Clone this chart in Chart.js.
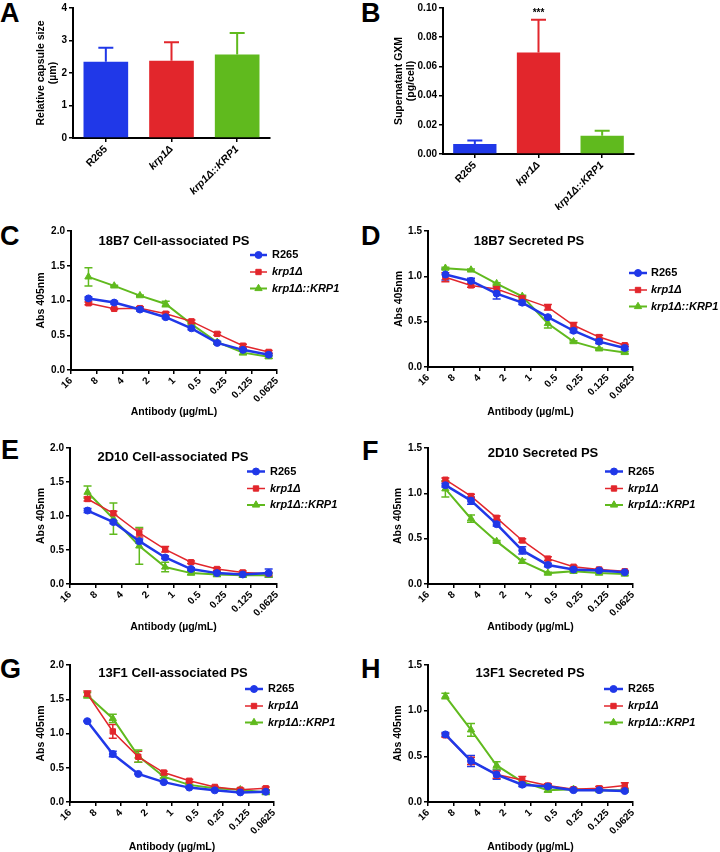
<!DOCTYPE html>
<html>
<head>
<meta charset="utf-8">
<script src="https://cdn.jsdelivr.net/npm/chart.js@4.4.1/dist/chart.umd.min.js"></script>
<style>
  body { margin: 0; background: #fff; width: 720px; height: 852px; position: relative; overflow: hidden; font-family: "Liberation Sans", Arial, sans-serif; }
  .letter { position: absolute; font-weight: bold; font-size: 27px; line-height: 1; }
  canvas { position: absolute; }
</style>
</head>
<body>
<div class="letter" style="left:0;top:0">A</div>
<div class="letter" style="left:361px;top:0">B</div>
<div class="letter" style="left:0;top:223px">C</div>
<div class="letter" style="left:361px;top:223px">D</div>
<div class="letter" style="left:1px;top:437px">E</div>
<div class="letter" style="left:362px;top:438px">F</div>
<div class="letter" style="left:0;top:656px">G</div>
<div class="letter" style="left:361px;top:656px">H</div>
<script>
// --- data ---
const strains = ['R265', 'krp1Δ', 'krp1Δ::KRP1'];
const strainsB = ['R265', 'kpr1Δ', 'krp1Δ::KRP1'];

const capsuleMean = [2.35, 2.38, 2.57];
const capsuleSd = [0.43, 0.57, 0.66];
const gxmMean = [0.0068, 0.0695, 0.0125];
const gxmSd = [0.0025, 0.0225, 0.0035];

const doses = [10, 5, 2.5, 1.25, 0.625, 0.3125, 0.15625, 0.078125];
const doseTicks = [16, 8, 4, 2, 1, 0.5, 0.25, 0.125, 0.0625];

// 18B7 cell-associated
const c_r265 = [1.03, 0.97, 0.87, 0.76, 0.60, 0.39, 0.29, 0.22];
const c_krp1 = [0.96, 0.88, 0.89, 0.81, 0.70, 0.52, 0.35, 0.26];
const c_comp = [1.34, 1.21, 1.07, 0.95, 0.66, 0.40, 0.25, 0.19];
const c_r265Err = [0.02, 0.02, 0.02, 0.02, 0.02, 0.02, 0.02, 0.02];
const c_krp1Err = [0.02, 0.01, 0.02, 0.02, 0.02, 0.02, 0.02, 0.02];
const c_compErr = [0.13, 0.01, 0.01, 0.04, 0.01, 0.01, 0.03, 0.02];
// 18B7 secreted
const d_r265 = [1.02, 0.95, 0.81, 0.71, 0.55, 0.40, 0.28, 0.21];
const d_krp1 = [0.99, 0.90, 0.86, 0.76, 0.66, 0.46, 0.33, 0.24];
const d_comp = [1.09, 1.07, 0.92, 0.78, 0.48, 0.28, 0.20, 0.16];
const d_r265Err = [0.06, 0.03, 0.06, 0.02, 0.01, 0.02, 0.02, 0.02];
const d_krp1Err = [0.05, 0.02, 0.03, 0.02, 0.03, 0.03, 0.02, 0.01];
const d_compErr = [0.01, 0.01, 0.01, 0.01, 0.05, 0.01, 0.01, 0.01];
// 2D10 cell-associated
const e_r265 = [1.08, 0.91, 0.63, 0.39, 0.22, 0.16, 0.14, 0.16];
const e_krp1 = [1.25, 1.04, 0.75, 0.51, 0.32, 0.22, 0.17, 0.15];
const e_comp = [1.35, 0.96, 0.56, 0.25, 0.16, 0.14, 0.13, 0.13];
const e_r265Err = [0.03, 0.02, 0.03, 0.02, 0.02, 0.02, 0.02, 0.06];
const e_krp1Err = [0.03, 0.03, 0.06, 0.04, 0.02, 0.02, 0.02, 0.02];
const e_compErr = [0.09, 0.23, 0.27, 0.07, 0.02, 0.03, 0.03, 0.02];
// 2D10 secreted
const f_r265 = [1.09, 0.92, 0.66, 0.37, 0.21, 0.16, 0.15, 0.13];
const f_krp1 = [1.15, 0.97, 0.73, 0.48, 0.28, 0.19, 0.16, 0.14];
const f_comp = [1.05, 0.72, 0.47, 0.25, 0.12, 0.14, 0.12, 0.11];
const f_r265Err = [0.02, 0.04, 0.02, 0.04, 0.02, 0.01, 0.01, 0.01];
const f_krp1Err = [0.02, 0.02, 0.02, 0.02, 0.02, 0.01, 0.01, 0.01];
const f_compErr = [0.09, 0.04, 0.01, 0.02, 0.01, 0.01, 0.01, 0.01];
// 13F1 cell-associated
const g_r265 = [1.18, 0.70, 0.41, 0.29, 0.21, 0.17, 0.14, 0.15];
const g_krp1 = [1.58, 1.03, 0.66, 0.43, 0.31, 0.22, 0.18, 0.20];
const g_comp = [1.56, 1.22, 0.67, 0.37, 0.25, 0.20, 0.18, 0.14];
const g_r265Err = [0.01, 0.04, 0.01, 0.01, 0.01, 0.01, 0.01, 0.02];
const g_krp1Err = [0.04, 0.10, 0.08, 0.02, 0.02, 0.01, 0.02, 0.02];
const g_compErr = [0.04, 0.06, 0.09, 0.02, 0.01, 0.01, 0.01, 0.03];
// 13F1 secreted
const h_r265 = [0.74, 0.45, 0.30, 0.19, 0.17, 0.13, 0.13, 0.12];
const h_krp1 = [0.73, 0.45, 0.30, 0.24, 0.18, 0.14, 0.15, 0.18];
const h_comp = [1.16, 0.79, 0.40, 0.22, 0.13, 0.14, 0.13, 0.13];
const h_r265Err = [0.02, 0.06, 0.05, 0.02, 0.02, 0.01, 0.01, 0.01];
const h_krp1Err = [0.02, 0.04, 0.04, 0.04, 0.02, 0.01, 0.02, 0.03];
const h_compErr = [0.03, 0.07, 0.04, 0.01, 0.02, 0.01, 0.01, 0.01];

// --- styling ---
const FONT = "'Liberation Sans', Arial, sans-serif";
Chart.defaults.font.family = FONT;
Chart.defaults.font.weight = 'bold';
Chart.defaults.font.size = 10;
Chart.defaults.color = '#000';
Chart.defaults.animation = false;
Chart.defaults.responsive = false;
Chart.defaults.plugins.legend.display = false;
Chart.defaults.plugins.tooltip.enabled = false;

const BLUE = 'rgb(32,56,232)', RED = 'rgb(226,38,44)', GREEN = 'rgb(96,186,30)';
const barColors = [BLUE, RED, GREEN];
const styles = [
  { color: BLUE, shape: 'circle', radius: 3.5, width: 2.5 },
  { color: RED, shape: 'rect', radius: 3.8, width: 1.5 },
  { color: GREEN, shape: 'triangle', radius: 4.2, width: 2 }
];
const axisGrid = { drawOnChartArea: false, drawTicks: true, tickLength: 4, color: '#000', lineWidth: 1.5 };
const axisBorder = { display: true, color: '#000', width: 2 };

function addCanvas(box) {
  const cv = document.createElement('canvas');
  cv.width = box.r - box.l;
  cv.height = box.b - box.t;
  cv.style.left = box.l + 'px';
  cv.style.top = box.t + 'px';
  document.body.appendChild(cv);
  return cv;
}

function drawErrors(chart, capW, upOnly) {
  const ctx = chart.ctx, ys = chart.scales.y;
  chart.data.datasets.forEach((ds, i) => {
    if (!ds.errors) return;
    const meta = chart.getDatasetMeta(i);
    meta.data.forEach((el, j) => {
      const e = ds.errors[j];
      if (!e) return;
      const raw = ds.data[j];
      const v = typeof raw === 'object' ? raw.y : raw;
      const top = ys.getPixelForValue(v + e);
      const bot = ys.getPixelForValue(upOnly ? v : v - e);
      const col = Array.isArray(ds.backgroundColor) ? ds.backgroundColor[j] : ds.borderColor;
      ctx.save();
      ctx.strokeStyle = col;
      ctx.lineWidth = upOnly ? 2 : 1.5;
      ctx.beginPath();
      ctx.moveTo(el.x, top); ctx.lineTo(el.x, bot);
      ctx.moveTo(el.x - capW / 2, top); ctx.lineTo(el.x + capW / 2, top);
      if (!upOnly) { ctx.moveTo(el.x - capW / 2, bot); ctx.lineTo(el.x + capW / 2, bot); }
      ctx.stroke();
      ctx.restore();
    });
  });
}

function barChart(p) {
  const cv = addCanvas(p.box);
  new Chart(cv, {
    type: 'bar',
    data: {
      labels: p.labels,
      datasets: [{ data: p.means, errors: p.sds, backgroundColor: barColors, borderWidth: 0, barPercentage: 0.68, categoryPercentage: 1 }]
    },
    options: {
      layout: { padding: { left: 0, top: p.area.y0 - p.box.t, right: p.box.r - p.area.x1, bottom: 0 } },
      scales: {
        x: {
          afterFit: s => { s.height = p.box.b - p.area.y1; },
          grid: { ...axisGrid, offset: false },
          border: axisBorder,
          ticks: { minRotation: 45, maxRotation: 45, autoSkip: false, padding: 1,
            font: c => ({ size: 10.5, weight: 'bold', style: c.index ? 'italic' : 'normal' }) }
        },
        y: {
          min: 0, max: p.yMax,
          afterFit: s => { s.width = p.area.x0 - p.box.l; },
          grid: axisGrid,
          border: axisBorder,
          ticks: { stepSize: p.step, padding: 2, font: { size: 10 }, callback: v => v.toFixed(p.dec) },
          title: { display: true, text: p.yTitle, font: { size: 10.5, lineHeight: 1.15 }, padding: 0 }
        }
      }
    },
    plugins: [{
      id: 'barDeco',
      afterDatasetsDraw: c => drawErrors(c, 15, true),
      afterDraw: c => {
        if (!p.stars) return;
        const ctx = c.ctx;
        const x = c.scales.x.getPixelForValue(p.stars);
        const y = c.scales.y.getPixelForValue(p.means[p.stars] + p.sds[p.stars]) - 4;
        ctx.save();
        ctx.font = 'bold 10px ' + FONT;
        ctx.textAlign = 'center';
        ctx.fillStyle = '#000';
        ctx.fillText('***', x, y);
        ctx.restore();
      }
    }]
  });
}

function lineChart(p) {
  const cv = addCanvas(p.box);
  const datasets = p.series.map((vals, i) => ({
    label: strains[i],
    data: doses.map((d, j) => ({ x: d, y: vals[j] })),
    errors: p.errs[i],
    borderColor: styles[i].color,
    backgroundColor: styles[i].color,
    pointBackgroundColor: styles[i].color,
    pointBorderColor: styles[i].color,
    borderWidth: styles[i].width,
    pointStyle: styles[i].shape,
    pointRadius: styles[i].radius,
    pointBorderWidth: 1,
    tension: 0
  }));
  new Chart(cv, {
    type: 'line',
    data: { datasets },
    options: {
      layout: { padding: { left: 0, top: p.area.y0 - p.box.t, right: p.box.r - p.area.x1, bottom: 0 } },
      scales: {
        x: {
          type: 'logarithmic', reverse: true, min: 0.0625, max: 16,
          afterBuildTicks: s => { s.ticks = doseTicks.map(v => ({ value: v })); s.min = 0.0625; s.max = 16; },
          afterFit: s => { s.height = p.box.b - p.area.y1; },
          grid: axisGrid,
          border: axisBorder,
          ticks: { minRotation: 45, maxRotation: 45, autoSkip: false, padding: 1, font: { size: 10 }, callback: v => String(v) },
          title: { display: true, text: 'Antibody (µg/mL)', font: { size: 10.5, lineHeight: 1.2 }, padding: 0 }
        },
        y: {
          min: 0, max: p.yMax,
          afterFit: s => { s.width = p.area.x0 - p.box.l; },
          grid: axisGrid,
          border: axisBorder,
          ticks: { stepSize: 0.5, padding: 2, font: { size: 10 }, callback: v => v.toFixed(1) },
          title: { display: true, text: 'Abs 405nm', font: { size: 10.5, lineHeight: 1.2 }, padding: 0 }
        }
      }
    },
    plugins: [{
      id: 'lineDeco',
      beforeDatasetsDraw: c => drawErrors(c, 8, false),
      afterDraw: c => {
        const ctx = c.ctx, L = p.box.l, T = p.box.t, lg = p.legend;
        ctx.save();
        ctx.fillStyle = '#000';
        ctx.font = 'bold 13px ' + FONT;
        ctx.textAlign = 'center';
        ctx.textBaseline = 'middle';
        ctx.fillText(p.title, p.titleAt[0] - L, p.titleAt[1] - T);
        c.data.datasets.forEach((ds, i) => {
          const y = lg.rows[i] - T, x0 = lg.x0 - L, x1 = lg.x1 - L;
          ctx.strokeStyle = ds.borderColor;
          ctx.fillStyle = ds.borderColor;
          ctx.lineWidth = ds.borderWidth;
          ctx.beginPath(); ctx.moveTo(x0, y); ctx.lineTo(x1, y); ctx.stroke();
          ctx.lineWidth = 1;
          Chart.helpers.drawPoint(ctx, { pointStyle: ds.pointStyle, radius: ds.pointRadius, rotation: 0, borderWidth: 1 }, (x0 + x1) / 2, y);
          ctx.fillStyle = '#000';
          ctx.textAlign = 'left';
          ctx.font = (i ? 'italic ' : '') + 'bold 11px ' + FONT;
          ctx.fillText(ds.label, lg.tx - L, y);
        });
        ctx.restore();
      }
    }]
  });
}

barChart({
  box: { l: 35, t: 0, r: 360, b: 210 }, area: { x0: 73, y0: 8, x1: 270, y1: 138 },
  labels: strains, means: capsuleMean, sds: capsuleSd, yMax: 4, step: 1, dec: 0,
  yTitle: ['Relative capsule size', '(µm)']
});
barChart({
  box: { l: 393, t: 0, r: 720, b: 210 }, area: { x0: 443, y0: 8, x1: 634, y1: 154 },
  labels: strainsB, means: gxmMean, sds: gxmSd, yMax: 0.1, step: 0.02, dec: 2,
  yTitle: ['Supernatant GXM', '(pg/cell)'], stars: 1
});

lineChart({
  title: '18B7 Cell-associated PS', yMax: 2,
  series: [c_r265, c_krp1, c_comp], errs: [c_r265Err, c_krp1Err, c_compErr],
  box: { l: 35, t: 215, r: 360, b: 418 }, area: { x0: 71, y0: 231, x1: 277, y1: 370 },
  titleAt: [174, 241], legend: { x0: 250, x1: 267, tx: 272, rows: [255, 272, 288.5] }
});
lineChart({
  title: '18B7 Secreted PS', yMax: 1.5,
  series: [d_r265, d_krp1, d_comp], errs: [d_r265Err, d_krp1Err, d_compErr],
  box: { l: 393, t: 215, r: 720, b: 418 }, area: { x0: 428, y0: 231, x1: 633, y1: 367 },
  titleAt: [529, 241], legend: { x0: 629, x1: 647, tx: 651, rows: [273, 290, 306.5] }
});
lineChart({
  title: '2D10 Cell-associated PS', yMax: 2,
  series: [e_r265, e_krp1, e_comp], errs: [e_r265Err, e_krp1Err, e_compErr],
  box: { l: 35, t: 432, r: 360, b: 633 }, area: { x0: 70, y0: 448, x1: 277, y1: 584 },
  titleAt: [173, 457], legend: { x0: 247, x1: 265, tx: 270, rows: [471.5, 488.5, 505] }
});
lineChart({
  title: '2D10 Secreted PS', yMax: 1.5,
  series: [f_r265, f_krp1, f_comp], errs: [f_r265Err, f_krp1Err, f_compErr],
  box: { l: 392, t: 432, r: 720, b: 633 }, area: { x0: 428, y0: 448, x1: 633, y1: 584 },
  titleAt: [543, 453.5], legend: { x0: 605, x1: 623, tx: 628, rows: [471.5, 488.5, 505] }
});
lineChart({
  title: '13F1 Cell-associated PS', yMax: 2,
  series: [g_r265, g_krp1, g_comp], errs: [g_r265Err, g_krp1Err, g_compErr],
  box: { l: 35, t: 649, r: 360, b: 853 }, area: { x0: 70, y0: 665, x1: 274, y1: 802 },
  titleAt: [173, 673.5], legend: { x0: 245, x1: 263, tx: 268, rows: [689, 706, 722.5] }
});
lineChart({
  title: '13F1 Secreted PS', yMax: 1.5,
  series: [h_r265, h_krp1, h_comp], errs: [h_r265Err, h_krp1Err, h_compErr],
  box: { l: 392, t: 649, r: 720, b: 853 }, area: { x0: 428, y0: 665, x1: 633, y1: 802 },
  titleAt: [530, 673.5], legend: { x0: 604, x1: 623, tx: 628, rows: [689, 706, 722.5] }
});
</script>
</body>
</html>
